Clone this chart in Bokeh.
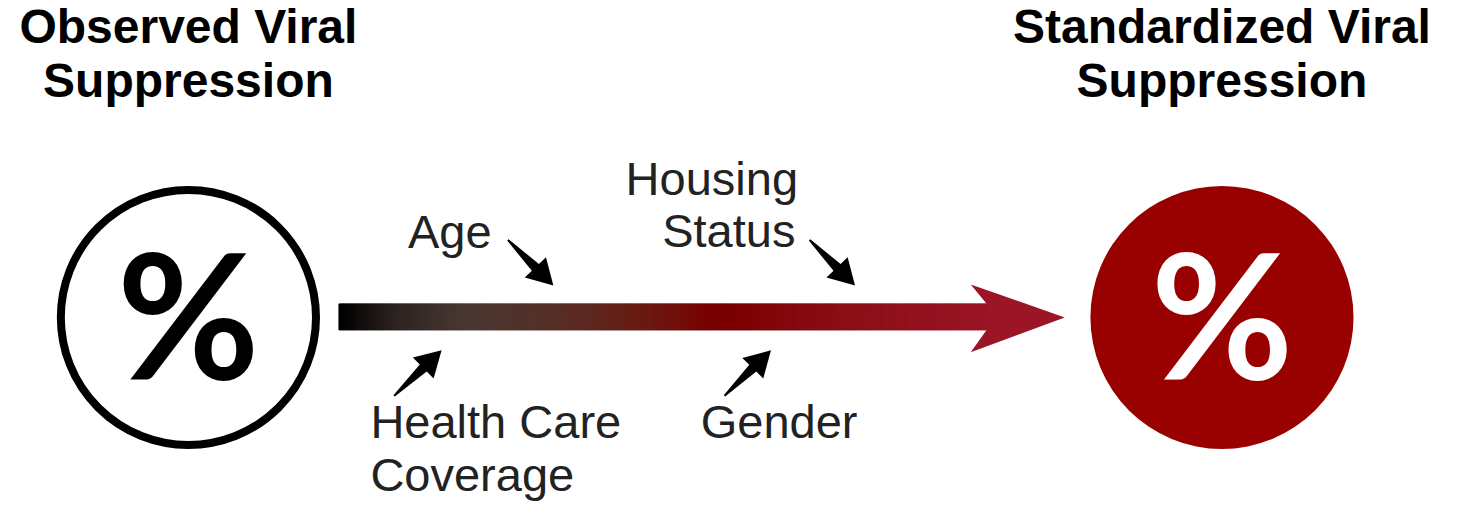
import numpy as np
from bokeh.plotting import figure
from bokeh.models import Range1d
from bokeh.core.properties import value
from bokeh.embed import file_html
from bokeh.resources import INLINE

# ---- data (reference-picture pixel coordinates of the diagram) ----
title_texts = ["Observed Viral", "Suppression", "Standardized Viral", "Suppression"]
title_x = [190, 190, 1235, 1235]
title_y = [46, 101, 46, 101]

label_texts = ["Housing", "Status", "Age", "Health Care", "Coverage", "Gender"]
label_x = [632, 669, 412, 374, 374, 708]
label_y = [202, 256, 257, 453, 507, 453]

circle_x = [190, 1235]
circle_y = [327, 327]
circle_r = [129, 133]
percent_baseline = 389

# gradient stops along the main arrow shaft
grad_pos = [342, 400, 470, 560, 650, 725, 850, 1000]
grad_col = ["#000000", "#2e2422", "#4a3833", "#563028", "#6a1c12", "#7a0000", "#8b1016", "#9a1526"]
shaft_top, shaft_bot = 313, 340
head_x = [981, 1076, 981, 997, 997]
head_y = [293, 327, 363, 340, 313]

# small influence arrows: tail -> tip
arrow_tail_x = [513, 818, 398, 732]
arrow_tail_y = [247, 247, 408, 408]
arrow_tip_x = [559, 864, 446, 779]
arrow_tip_y = [294, 294, 361, 361]

W, H = 1444, 503
RW, RH = 1460, 519
p = figure(width=W, height=H, output_backend="svg", toolbar_location=None,
           x_range=Range1d(0, RW), y_range=Range1d(RH, 0),
           min_border=0, min_border_left=0, min_border_right=0,
           min_border_top=0, min_border_bottom=0)
p.axis.visible = False
p.grid.visible = False
p.outline_line_color = None
p.background_fill_color = "white"
p.border_fill_color = "white"

yscale = RH / H  # data units per pixel vertically


def fix(ys, size):
    # empirical correction of the alphabetic baseline in the svg output
    return [y - 0.38 * size * yscale for y in ys]


# circles
p.circle(x=[circle_x[0]], y=[circle_y[0]], radius=circle_r[0],
         fill_color=None, line_color="black", line_width=8)
p.circle(x=[circle_x[1]], y=[circle_y[1]], radius=circle_r[1],
         fill_color="#990000", line_color=None)

# percent signs
PS = 174
p.text(x=[circle_x[0], circle_x[1]], y=fix([percent_baseline] * 2, PS), text=["%", "%"],
       text_color=["black", "white"], text_font=value("Lato"),
       text_font_style="bold", text_font_size=f"{PS}px",
       text_align="center", text_baseline="alphabetic")

# gradient shaft
def hex2rgb(h):
    return np.array([int(h[i:i + 2], 16) for i in (1, 3, 5)], dtype=float)

stops = np.array([hex2rgb(c) for c in grad_col])
xs = np.arange(grad_pos[0], grad_pos[-1], 1.5)
cols = []
for x in xs:
    rgb = [np.interp(x + 0.75, grad_pos, stops[:, k]) for k in range(3)]
    cols.append("#%02x%02x%02x" % tuple(int(round(v)) for v in rgb))
p.quad(left=xs, right=xs + 2.5, top=shaft_top, bottom=shaft_bot,
       fill_color=cols, line_color=cols, line_width=0.6)
p.patch(head_x, head_y, fill_color="#9c1527", line_color=None)

# small black arrows
pxs, pys = [], []
for tx, ty, hx, hy in zip(arrow_tail_x, arrow_tail_y, arrow_tip_x, arrow_tip_y):
    d = np.array([hx - tx, hy - ty], dtype=float)
    L = np.hypot(*d)
    u = d / L
    n = np.array([-u[1], u[0]])
    hl, hw, sw = 26.0, 15.0, 5.0
    base = np.array([hx, hy]) - u * hl
    tail = np.array([tx, ty])
    pts = [tail + n * 1.0, base + n * sw, base + n * hw, np.array([hx, hy]),
           base - n * hw, base - n * sw, tail - n * 1.0]
    pxs.append([q[0] for q in pts])
    pys.append([q[1] for q in pts])
p.patches(pxs, pys, fill_color="black", line_color=None)

# titles
TS = 48
p.text(x=title_x, y=fix(title_y, TS), text=title_texts, text_font=value("Liberation Sans"),
       text_font_style="bold", text_font_size=f"{TS}px", text_color="black",
       text_align="center", text_baseline="alphabetic")

# labels
LS = 47
p.text(x=label_x, y=fix(label_y, LS), text=label_texts, text_font=value("Liberation Sans"),
       text_font_size=f"{LS}px", text_color="#222222",
       text_align="left", text_baseline="alphabetic")

open("out.html", "w").write(file_html(p, INLINE))
